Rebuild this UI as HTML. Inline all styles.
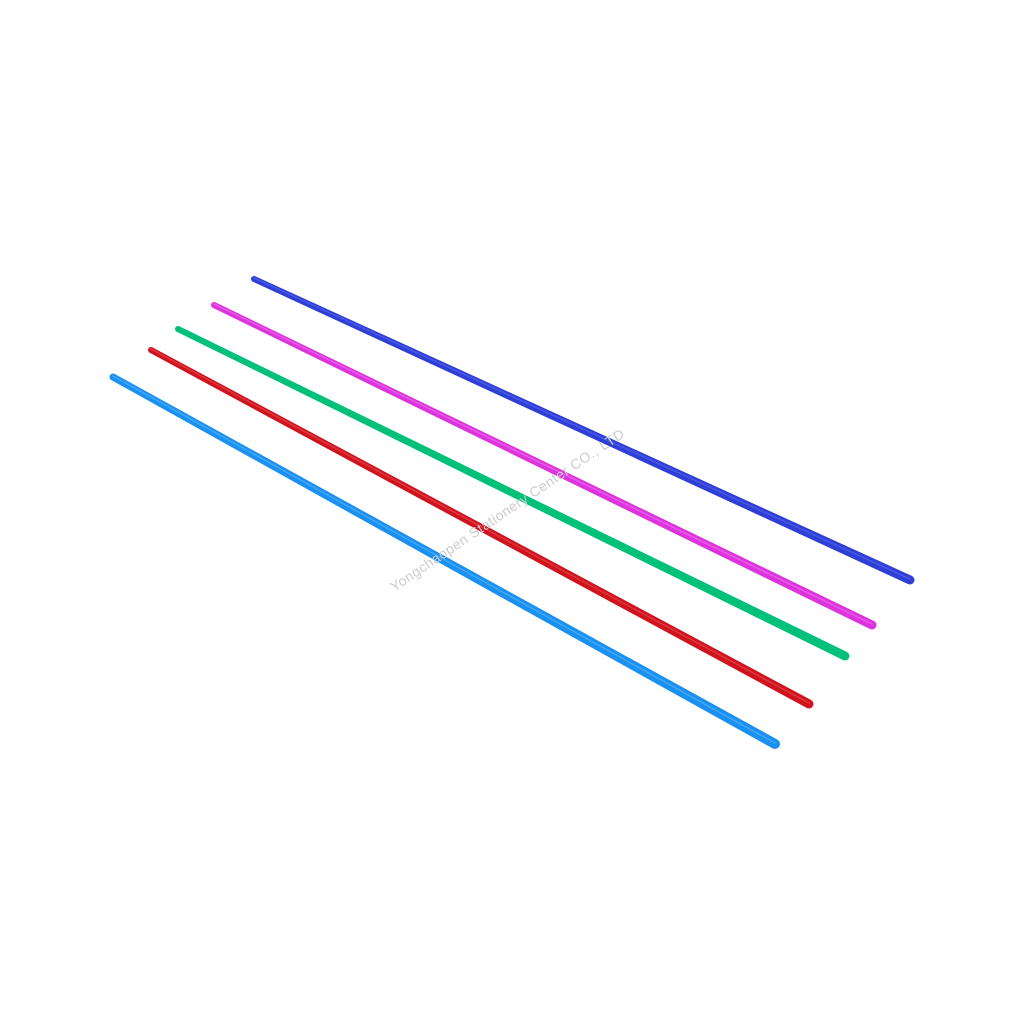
<!DOCTYPE html>
<html><head><meta charset="utf-8"><style>
html,body{margin:0;padding:0;background:#fff;}
svg{display:block;}
</style></head><body>
<svg width="1024" height="1024" viewBox="0 0 1024 1024" xmlns="http://www.w3.org/2000/svg">
<g fill="#2f3fd6">
<polygon points="252.75,281.73 255.25,276.27 911.88,575.91 908.12,584.09"/>
<circle cx="254" cy="279" r="3"/><circle cx="910" cy="580" r="4.5"/>
</g>
<g fill="#dd33dd">
<polygon points="212.69,307.70 215.31,302.30 873.97,620.95 870.03,629.05"/>
<circle cx="214" cy="305" r="3"/><circle cx="872" cy="625" r="4.5"/>
</g>
<g fill="#00c07a">
<polygon points="176.68,331.69 179.32,326.31 846.98,651.96 843.02,660.04"/>
<circle cx="178" cy="329" r="3"/><circle cx="845" cy="656" r="4.5"/>
</g>
<g fill="#d0141e">
<polygon points="149.58,352.64 152.42,347.36 811.13,700.04 806.87,707.96"/>
<circle cx="151" cy="350" r="3"/><circle cx="809" cy="704" r="4.5"/>
</g>
<g fill="#1a90f0">
<polygon points="111.30,380.06 114.70,373.94 777.43,739.63 772.58,748.37"/>
<circle cx="113" cy="377" r="3.5"/><circle cx="775" cy="744" r="5"/>
</g>
<g stroke-linecap="round" fill="none" stroke-width="1.5" opacity="0.45">
<line x1="254" y1="278" x2="910" y2="579" stroke="#6677ff"/>
<line x1="214" y1="304" x2="872" y2="624" stroke="#f588f5"/>
<line x1="151" y1="349" x2="809" y2="703" stroke="#f06068"/>
<line x1="113" y1="376" x2="775" y2="743" stroke="#70c4ff"/>
</g>
<text x="510" y="514" transform="rotate(-34 510 514)" text-anchor="middle" font-family="Liberation Sans, sans-serif" font-size="14" fill="#cccccc" letter-spacing="0.5">Yongchaopen Stationery Center CO., LTD</text>
</svg>
</body></html>
